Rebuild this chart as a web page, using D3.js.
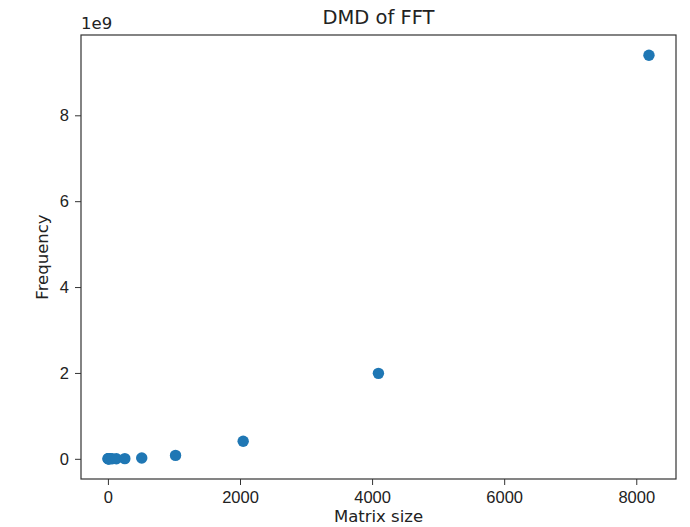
<!DOCTYPE html>
<html>
<head>
<meta charset="utf-8">
<script src="https://cdn.jsdelivr.net/npm/d3@7"></script>
<style>
  html, body { margin: 0; padding: 0; background: #fff; }
  svg { display: block; font-family: "DejaVu Sans", sans-serif; }
</style>
</head>
<body>
<svg id="chart" width="690" height="527"></svg>
<script>
// Matrix sizes tested and the measured frequency (in units of 1e9)
const matrixSizes = [2, 4, 8, 16, 32, 64, 128, 256, 512, 1024, 2048, 4096, 8192];
const frequency = [0.000001, 0.000004, 0.00001, 0.00003, 0.0001, 0.0003, 0.0009, 0.004, 0.019, 0.08, 0.41, 1.99, 9.40];
const xTicks = [0, 2000, 4000, 6000, 8000];
const yTicks = [0, 2, 4, 6, 8];

const svg = d3.select("#chart");
const plot = { left: 81, right: 676, top: 35, bottom: 479 };

// 5% padding on each side of the data range
function padded(values) {
  const [lo, hi] = d3.extent(values);
  const pad = (hi - lo) * 0.05;
  return [lo - pad, hi + pad];
}

const x = d3.scaleLinear().domain(padded(matrixSizes)).range([plot.left, plot.right]);
const y = d3.scaleLinear().domain(padded(frequency)).range([plot.bottom, plot.top]);

const axisColor = "#333";
const textColor = "#222";

// points
svg.append("g")
  .selectAll("circle")
  .data(matrixSizes.map((m, i) => ({ m, f: frequency[i] })))
  .join("circle")
  .attr("cx", d => x(d.m))
  .attr("cy", d => y(d.f))
  .attr("r", 5.7)
  .attr("fill", "#1f77b4");

// axes
const xAxis = svg.append("g")
  .attr("transform", `translate(0,${plot.bottom})`)
  .call(d3.axisBottom(x).tickValues(xTicks).tickSize(6).tickPadding(6).tickFormat(d3.format("d")));
const yAxis = svg.append("g")
  .attr("transform", `translate(${plot.left},0)`)
  .call(d3.axisLeft(y).tickValues(yTicks).tickSize(6).tickPadding(6).tickFormat(d3.format("d")));

[xAxis, yAxis].forEach(g => {
  g.select(".domain").remove();
  g.selectAll(".tick line").attr("stroke", axisColor).attr("stroke-width", 1);
  g.selectAll(".tick text").attr("fill", textColor).style("font-size", "16.5px");
});

// frame
svg.append("rect")
  .attr("x", plot.left).attr("y", plot.top)
  .attr("width", plot.right - plot.left).attr("height", plot.bottom - plot.top)
  .attr("fill", "none").attr("stroke", axisColor).attr("stroke-width", 1.2);

// offset label for y axis
svg.append("text")
  .attr("x", plot.left).attr("y", 29)
  .attr("fill", textColor).style("font-size", "16.5px")
  .text("1e9");

// title
svg.append("text")
  .attr("x", (plot.left + plot.right) / 2).attr("y", 24)
  .attr("text-anchor", "middle")
  .attr("fill", textColor).style("font-size", "19.5px")
  .text("DMD of FFT");

// axis labels
svg.append("text")
  .attr("x", (plot.left + plot.right) / 2).attr("y", 522)
  .attr("text-anchor", "middle")
  .attr("fill", textColor).style("font-size", "16.5px")
  .text("Matrix size");

svg.append("text")
  .attr("transform", `translate(48,${(plot.top + plot.bottom) / 2}) rotate(-90)`)
  .attr("text-anchor", "middle")
  .attr("fill", textColor).style("font-size", "16.5px")
  .text("Frequency");
</script>
</body>
</html>
